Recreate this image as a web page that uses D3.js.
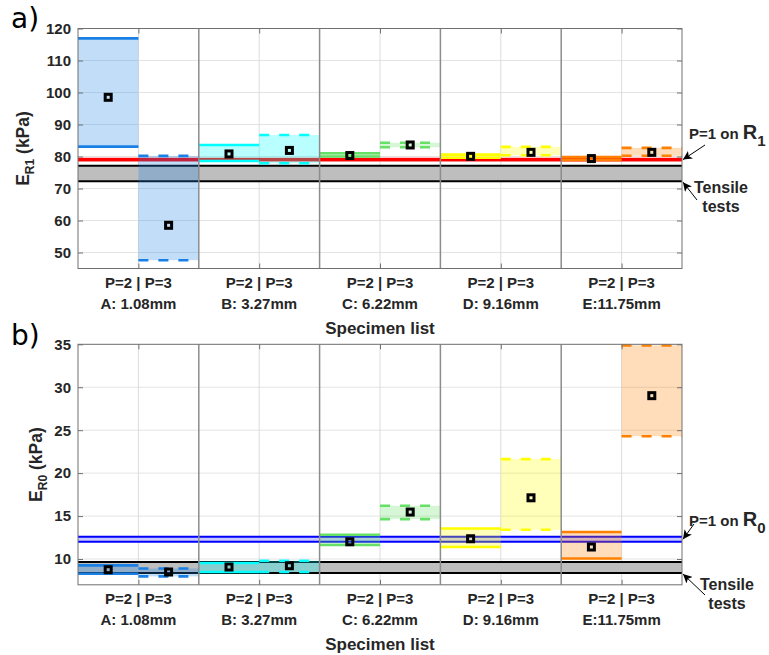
<!DOCTYPE html>
<html>
<head>
<meta charset="utf-8">
<script src="https://cdn.jsdelivr.net/npm/d3@7"></script>
<style>
  body { margin: 0; background: #fff; }
  svg { display: block; font-family: "Liberation Sans", Arial, Helvetica, sans-serif; }
</style>
</head>
<body>
<svg id="chart" width="769" height="655"></svg>
<script>
// ---- data ----
const specimens = ["A: 1.08mm", "B: 3.27mm", "C: 6.22mm", "D: 9.16mm", "E:11.75mm"];
const pressures = ["P=2", "P=3"];
const seriesColors = ["#1a80e6", "#00ffff", "#66e066", "#ffff00", "#ff8000"];

// Panel a) E_R1 (kPa): range [low, high] and mean per specimen
const r1P2Low  = [83.1, 78.6, 80.0, 79.6, 78.95];
const r1P2High = [116.9, 83.6, 81.0, 80.6, 79.85];
const r1P2Mean = [98.5, 80.8, 80.3, 80.05, 79.35];
const r1P3Low  = [47.6, 77.9, 82.9, 80.4, 80.25];
const r1P3High = [80.2, 86.7, 84.3, 83.0, 82.7];
const r1P3Mean = [58.5, 81.9, 83.6, 81.3, 81.3];
const r1Ticks = [50, 60, 70, 80, 90, 100, 110, 120];
const tensileR1 = [72.3, 77.1];
const p1R1 = [78.45, 79.6];

// Panel b) E_R0 (kPa)
const r0P2Low  = [8.29, 8.49, 11.63, 11.4, 10.07];
const r0P2High = [9.26, 9.53, 12.83, 13.56, 13.14];
const r0P2Mean = [8.76, 9.07, 12.01, 12.36, 11.4];
const r0P3Low  = [7.98, 8.49, 14.65, 13.41, 24.3];
const r0P3High = [8.9, 9.8, 16.2, 21.63, 34.88];
const r0P3Mean = [8.49, 9.22, 15.47, 17.13, 29.02];
const r0Ticks = [10, 15, 20, 25, 30, 35];
const tensileR0 = [8.37, 9.65];
const p1R0 = [12.0, 12.6];

// ---- drawing ----
const svg = d3.select("#chart");
const columns = specimens.flatMap(s => pressures.map(p => s + "|" + p));

const defs = svg.append("defs");
defs.append("marker")
  .attr("id", "arrowhead")
  .attr("viewBox", "0 0 10 10")
  .attr("refX", 10).attr("refY", 5)
  .attr("markerWidth", 9).attr("markerHeight", 9)
  .attr("markerUnits", "userSpaceOnUse")
  .attr("orient", "auto")
  .append("path")
  .attr("d", "M0,0 L10,5 L0,10 L2.5,5 Z")
  .attr("fill", "#000");

function drawPanel(o) {
  const g = svg.append("g");
  const x = d3.scaleBand().domain(columns).range([o.left, o.right]);
  const y = d3.scaleLinear().domain(o.domain).range([o.bottom, o.top]);
  const bw = x.bandwidth();

  const clipId = "clip-" + o.id;
  defs.append("clipPath").attr("id", clipId).append("rect")
    .attr("x", o.left).attr("y", o.top)
    .attr("width", o.right - o.left).attr("height", o.bottom - o.top);
  const plot = g.append("g").attr("clip-path", `url(#${clipId})`);

  // horizontal grid
  plot.append("g").selectAll("line").data(o.ticks).join("line")
    .attr("x1", o.left).attr("x2", o.right)
    .attr("y1", d => y(d)).attr("y2", d => y(d))
    .attr("stroke", "#e4e4e4").attr("stroke-width", 1);

  // vertical grid at the tick positions (P=2 | P=3 split)
  plot.append("g").selectAll("line").data(specimens).join("line")
    .attr("x1", s => x(s + "|P=3")).attr("x2", s => x(s + "|P=3"))
    .attr("y1", o.top).attr("y2", o.bottom)
    .attr("stroke", "#dcdcdc").attr("stroke-width", 1);

  // tensile-test band
  plot.append("rect")
    .attr("x", o.left).attr("width", o.right - o.left)
    .attr("y", y(o.tensile[1])).attr("height", y(o.tensile[0]) - y(o.tensile[1]))
    .attr("fill", "#bebebe");
  plot.append("g").selectAll("line").data(o.tensile).join("line")
    .attr("x1", o.left).attr("x2", o.right)
    .attr("y1", d => y(d)).attr("y2", d => y(d))
    .attr("stroke", "#000").attr("stroke-width", 2);

  // P=1 reference band
  if (o.p1Solid) {
    plot.append("rect")
      .attr("x", o.left).attr("width", o.right - o.left)
      .attr("y", y(o.p1[1])).attr("height", y(o.p1[0]) - y(o.p1[1]))
      .attr("fill", o.p1Color);
  } else {
    plot.append("rect")
      .attr("x", o.left).attr("width", o.right - o.left)
      .attr("y", y(o.p1[1])).attr("height", y(o.p1[0]) - y(o.p1[1]))
      .attr("fill", "#c8c8ff");
    plot.append("g").selectAll("line").data(o.p1).join("line")
      .attr("x1", o.left).attr("x2", o.right)
      .attr("y1", d => y(d)).attr("y2", d => y(d))
      .attr("stroke", o.p1Color).attr("stroke-width", 2);
  }

  // range boxes
  const boxes = specimens.flatMap((s, i) => pressures.map((p, j) => ({
    col: s + "|" + p,
    color: seriesColors[i],
    dashed: j === 1,
    low: o.low[j][i], high: o.high[j][i], mean: o.mean[j][i]
  })));

  plot.append("g").selectAll("rect").data(boxes).join("rect")
    .attr("x", d => x(d.col)).attr("width", bw)
    .attr("y", d => y(d.high)).attr("height", d => y(d.low) - y(d.high))
    .attr("fill", d => d.color).attr("fill-opacity", 0.27);

  const edges = boxes.flatMap(b => [{ ...b, v: b.high }, { ...b, v: b.low }]);
  plot.append("g").selectAll("line").data(edges).join("line")
    .attr("x1", d => x(d.col)).attr("x2", d => x(d.col) + bw)
    .attr("y1", d => y(d.v)).attr("y2", d => y(d.v))
    .attr("stroke", d => d.color).attr("stroke-width", 2.6)
    .attr("stroke-dasharray", d => d.dashed ? "10,10" : null);

  // specimen dividers
  plot.append("g").selectAll("line").data(specimens.slice(1)).join("line")
    .attr("x1", s => x(s + "|P=2")).attr("x2", s => x(s + "|P=2"))
    .attr("y1", o.top).attr("y2", o.bottom)
    .attr("stroke", "#8c8c8c").attr("stroke-width", 1.5);

  // mean markers
  plot.append("g").selectAll("rect").data(boxes).join("rect")
    .attr("x", d => x(d.col) + bw / 2 - 3).attr("y", d => y(d.mean) - 3)
    .attr("width", 6).attr("height", 6)
    .attr("fill", "none").attr("stroke", "#000").attr("stroke-width", 3);

  // axes frame
  g.append("rect")
    .attr("x", o.left).attr("y", o.top)
    .attr("width", o.right - o.left).attr("height", o.bottom - o.top)
    .attr("fill", "none").attr("stroke", "#707070").attr("stroke-width", 1);

  // y axis (left with labels, right ticks only)
  const yl = g.append("g").attr("transform", `translate(${o.left},0)`)
    .call(d3.axisLeft(y).tickValues(o.ticks).tickSize(-5).tickSizeOuter(0).tickPadding(7));
  const yr = g.append("g").attr("transform", `translate(${o.right},0)`)
    .call(d3.axisRight(y).tickValues(o.ticks).tickSize(-5).tickSizeOuter(0).tickFormat(""));
  [yl, yr].forEach(a => {
    a.select(".domain").remove();
    a.selectAll(".tick line").attr("stroke", "#707070");
  });
  yl.selectAll(".tick text")
    .attr("font-size", 15).attr("font-weight", "bold").attr("fill", "#262626")
    .attr("font-family", "Liberation Sans, Arial, sans-serif");

  // x axis ticks at the P=2 | P=3 split
  const tickX = d3.scaleOrdinal().domain(specimens).range(specimens.map(s => x(s + "|P=3")));
  const xb = g.append("g").attr("transform", `translate(0,${o.bottom})`)
    .call(d3.axisBottom(tickX).tickSize(-5).tickSizeOuter(0).tickFormat(""));
  const xt = g.append("g").attr("transform", `translate(0,${o.top})`)
    .call(d3.axisTop(tickX).tickSize(-5).tickSizeOuter(0).tickFormat(""));
  [xb, xt].forEach(a => {
    a.select(".domain").remove();
    a.selectAll(".tick line").attr("stroke", "#707070");
  });

  // two-line category labels
  const lab = g.append("g").selectAll("text").data(specimens).join("text")
    .attr("x", s => tickX(s))
    .attr("text-anchor", "middle")
    .attr("font-size", 15).attr("font-weight", "bold").attr("fill", "#262626");
  lab.append("tspan").attr("x", s => tickX(s)).attr("y", o.bottom + 19.5).text(pressures.join(" | "));
  lab.append("tspan").attr("x", s => tickX(s)).attr("y", o.bottom + 40.5).text(s => s);

  g.append("text")
    .attr("x", (o.left + o.right) / 2).attr("y", o.bottom + 65)
    .attr("text-anchor", "middle")
    .attr("font-size", 17).attr("font-weight", "bold").attr("fill", "#262626")
    .text("Specimen list");

  // y label with subscript
  const yt = g.append("text")
    .attr("transform", `translate(${o.yLabelX},${(o.top + o.bottom) / 2}) rotate(-90)`)
    .attr("text-anchor", "middle")
    .attr("font-size", 17.5).attr("font-weight", "bold").attr("fill", "#262626");
  yt.append("tspan").text("E");
  yt.append("tspan").attr("font-size", 12).attr("dy", 5).text(o.sub);
  yt.append("tspan").attr("dy", -5).text(" (kPa)");

  // panel letter
  g.append("text")
    .attr("x", 11).attr("y", o.letterY)
    .attr("font-family", "DejaVu Sans, sans-serif")
    .attr("font-size", 28).attr("fill", "#000")
    .text(o.letter);

  // annotations
  const an = o.note;
  const t1 = g.append("text")
    .attr("x", an.p1x).attr("y", an.p1y)
    .attr("font-weight", "bold").attr("fill", "#262626").attr("font-size", 15);
  t1.append("tspan").text("P=1 on ");
  t1.append("tspan").attr("font-size", 20).text("R");
  t1.append("tspan").attr("font-size", 15).attr("dy", 7).text(o.sub.slice(1));
  g.append("line")
    .attr("x1", an.p1a[0]).attr("y1", an.p1a[1])
    .attr("x2", o.right + 1).attr("y2", y((o.p1[0] + o.p1[1]) / 2))
    .attr("stroke", "#000").attr("stroke-width", 1)
    .attr("marker-end", "url(#arrowhead)");

  const t2 = g.append("text")
    .attr("text-anchor", "middle")
    .attr("font-weight", "bold").attr("fill", "#262626").attr("font-size", 16);
  t2.append("tspan").attr("x", an.tx).attr("y", an.ty).text("Tensile");
  t2.append("tspan").attr("x", an.tx).attr("y", an.ty + 19).text("tests");
  g.append("line")
    .attr("x1", an.ta[0]).attr("y1", an.ta[1])
    .attr("x2", o.right + 1).attr("y2", y(o.tensile[0]) + 1)
    .attr("stroke", "#000").attr("stroke-width", 1)
    .attr("marker-end", "url(#arrowhead)");
}

drawPanel({
  id: "a", letter: "a)", letterY: 28, sub: "R1", yLabelX: 28.5,
  left: 78, right: 682, top: 28.5, bottom: 268.5,
  domain: [45, 120], ticks: r1Ticks,
  low: [r1P2Low, r1P3Low], high: [r1P2High, r1P3High], mean: [r1P2Mean, r1P3Mean],
  tensile: tensileR1, p1: p1R1, p1Solid: true, p1Color: "#ff0000",
  note: { p1x: 689, p1y: 139, p1a: [705, 145], tx: 721, ty: 193, ta: [697, 200] }
});

drawPanel({
  id: "b", letter: "b)", letterY: 345, sub: "R0", yLabelX: 41.5,
  left: 78, right: 682, top: 344.3, bottom: 584.8,
  domain: [7, 35], ticks: r0Ticks,
  low: [r0P2Low, r0P3Low], high: [r0P2High, r0P3High], mean: [r0P2Mean, r0P3Mean],
  tensile: tensileR0, p1: p1R0, p1Solid: false, p1Color: "#0000ff",
  note: { p1x: 689, p1y: 526, p1a: [694, 524], tx: 727, ty: 590, ta: [705, 595] }
});
</script>
</body>
</html>
